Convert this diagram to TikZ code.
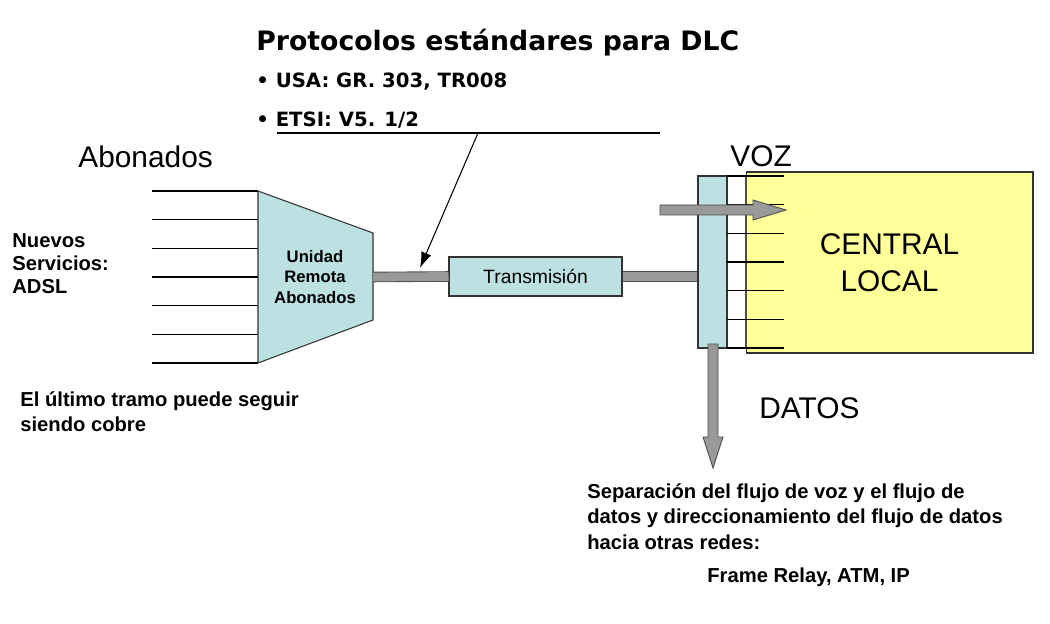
\documentclass[tikz,border=0pt]{standalone}
\usepackage{fontspec}
\setmainfont{Liberation Sans}
\newfontfamily\titfont{DejaVu Sans}
\usetikzlibrary{calc,arrows.meta}

\definecolor{azulcaja}{HTML}{BDE0E3}
\definecolor{amarillo}{HTML}{FFFF99}
\definecolor{grisbarra}{HTML}{999999}

\tikzset{
  caja/.style={draw=black!80, fill=azulcaja, line width=0.6pt},
  linea/.style={line width=0.6pt},
  barra/.style={draw=black!70, double=grisbarra, double distance=5pt, line width=0.5pt},
  flecha/.style={draw=black!70, fill=grisbarra, line width=0.5pt},
  texto/.style={inner sep=0pt, anchor=base west},
  bloque/.style={inner sep=0pt, anchor=north west, align=left}
}

\begin{document}
\begin{tikzpicture}[x=0.02cm, y=-0.02cm]
        \useasboundingbox (0,0) rectangle (1050,624);
        % protocolos
        \node[texto, font=\titfont\bfseries\fontsize{15.2}{18}\selectfont] (titulo) at (256,51) {Protocolos estándares para DLC};
        \node[texto, font=\titfont\bfseries\fontsize{11.2}{13}\selectfont] (usa) at (256,88) {• USA: GR. 303, TR008};
        \node[texto, font=\titfont\bfseries\fontsize{11.2}{13}\selectfont] (etsi) at (256,127) {• ETSI: V5. 1/2};
        \coordinate (subA) at (277,133);
        \coordinate (subB) at (660,133);
        \coordinate (subM) at (478,133);
        \draw[linea] (subA) -- (subB);
        % abonados
        \node[texto, font=\fontsize{17}{20}\selectfont] (abon) at (78,168) {Abonados};
        \foreach \i in {0,...,6}
            \draw[linea] (152,{191+28.67*\i}) -- (258,{191+28.67*\i});
        \coordinate (ruaA) at (258,191);
        \coordinate (ruaB) at (373,233);
        \coordinate (ruaC) at (373,320);
        \coordinate (ruaD) at (258,363);
        \coordinate (ruaout) at (373,277);
        \draw[caja] (ruaA) -- (ruaB) -- (ruaC) -- (ruaD) -- cycle;
        \node[align=center, font=\bfseries\fontsize{9.5}{11.5}\selectfont] (rua) at (315,277) {Unidad\\Remota\\Abonados};
        \node[bloque, font=\bfseries\fontsize{11.5}{13.3}\selectfont] (nuevos) at (12,233) {Nuevos\\Servicios:\\ADSL};
        \node[bloque, font=\bfseries\fontsize{11.5}{14.2}\selectfont] (tramo) at (20,391) {El último tramo puede seguir\\siendo cobre};
        % transmision
        \node[caja, minimum width=3.46cm, minimum height=0.78cm, inner sep=0pt, font=\fontsize{11}{13}\selectfont] (tx) at (535.5,276.5) {Transmisión};
        % central local
        \node[draw=black!80, fill=amarillo, line width=0.6pt, minimum width=5.74cm, minimum height=3.62cm, align=center, font=\fontsize{17}{21}\selectfont] (central) at (889.5,262.5) {CENTRAL\\LOCAL};
        \node[draw=black!70, fill=white, line width=0.6pt, minimum width=0.38cm, minimum height=3.44cm, inner sep=0pt] (tira) at (736.5,262) {};
        \node[caja, minimum width=0.58cm, minimum height=3.44cm, inner sep=0pt] (sep) at (712.5,262) {};
        \foreach \i in {0,...,6}
            \draw[linea] (727,{176+28.67*\i}) -- (784,{176+28.67*\i});
        \draw[barra] (ruaout) -- (tx.west);
        \draw[barra] (tx.east) -- (tx.east -| sep.west);
        \draw[-{Latex[length=9pt,width=6pt]}, linea] (subM) -- (420,268);
        \node[texto, font=\fontsize{17}{20}\selectfont] (voz) at (730,167) {VOZ};
        \node[texto, font=\fontsize{17}{20}\selectfont] (datos) at (759,418) {DATOS};
        % flechas
        \draw[flecha] (660,205) -- (753,205) -- (753,200) -- (786,210) -- (753,220) -- (753,215) -- (660,215) -- cycle;
        \draw[flecha] (708,344) -- (718,344) -- (718,437) -- (723,437) -- (713,468) -- (703,437) -- (708,437) -- cycle;
        % datos
        \node[bloque, font=\bfseries\fontsize{11.5}{14.5}\selectfont] (flujo) at (587,483) {Separación del flujo de voz y el flujo de\\datos y direccionamiento del flujo de datos\\hacia otras redes:};
        \node[texto, font=\bfseries\fontsize{11.5}{14}\selectfont] (redes) at (707,582) {Frame Relay, ATM, IP};
\end{tikzpicture}
\end{document}
